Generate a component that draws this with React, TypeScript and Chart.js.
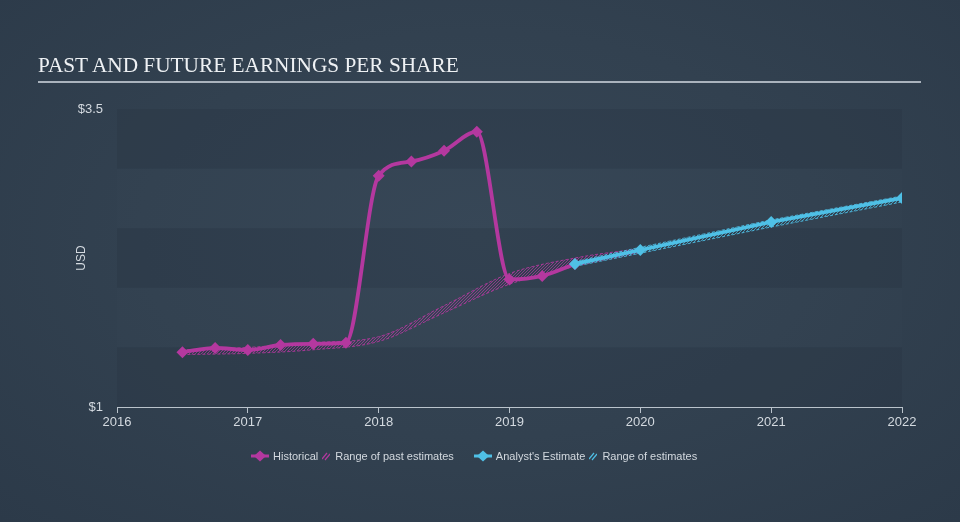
import React, { useEffect, useRef } from 'react';
import { Chart, registerables } from 'chart.js';

Chart.register(...registerables);

// ---- data ----
const histYears = [2016.5, 2016.75, 2017, 2017.25, 2017.5, 2017.75, 2018, 2018.25, 2018.5, 2018.75, 2019, 2019.25, 2019.5];
const histEPS = [1.46, 1.495, 1.478, 1.52, 1.53, 1.54, 2.94, 3.06, 3.15, 3.31, 2.07, 2.1, 2.2];

const estYears = [2019.5, 2020, 2021, 2022];
const estEPS = [2.2, 2.317, 2.552, 2.753];

const pastRangeYears = [2016.5, 2017, 2017.5, 2018, 2018.5, 2019, 2019.5, 2020];
const pastRangeLow = [1.44, 1.45, 1.48, 1.55, 1.79, 2.03, 2.18, 2.3];
const pastRangeHigh = [1.48, 1.5, 1.54, 1.59, 1.85, 2.12, 2.25, 2.33];

const futRangeYears = [2019.5, 2020, 2021, 2022];
const futRangeLow = [2.18, 2.29, 2.51, 2.72];
const futRangeHigh = [2.22, 2.34, 2.57, 2.77];

const xTickYears = [2016, 2017, 2018, 2019, 2020, 2021, 2022];
const yTickValues = [1, 3.5];
const yTickLabels = ['$1', '$3.5'];

const MAGENTA = '#b4389f';
const BLUE = '#4fc0e6';

function hatch(color: string) {
  const c = document.createElement('canvas');
  c.width = 3;
  c.height = 3;
  const g = c.getContext('2d')!;
  g.strokeStyle = color;
  g.lineWidth = 1;
  g.beginPath();
  g.moveTo(0, 3);
  g.lineTo(3, 0);
  g.moveTo(-1, 1);
  g.lineTo(1, -1);
  g.moveTo(2, 4);
  g.lineTo(4, 2);
  g.stroke();
  return g.createPattern(c, 'repeat')!;
}

const bandsPlugin = {
  id: 'bands',
  beforeDraw(chart: any) {
    const { ctx, chartArea, scales } = chart;
    const y = scales.y;
    ctx.save();
    let i = 0;
    for (let v = 1; v < 3.5 - 1e-9; v += 0.5) {
      const top = y.getPixelForValue(v + 0.5);
      const bot = y.getPixelForValue(v);
      ctx.fillStyle = i % 2 === 0 ? 'rgba(25,35,48,0.14)' : 'rgba(255,255,255,0.008)';
      ctx.fillRect(chartArea.left, top, chartArea.right - chartArea.left, bot - top);
      i++;
    }
    ctx.restore();
  },
};

function Diamond({ color }: { color: string }) {
  return (
    <svg width="18" height="12" style={{ marginRight: 4 }}>
      <line x1="0" y1="6" x2="18" y2="6" stroke={color} strokeWidth="3" />
      <polygon points="9,0.5 15,6 9,11.5 3,6" fill={color} />
    </svg>
  );
}

function Hatch({ color }: { color: string }) {
  return (
    <svg width="8" height="10" style={{ marginRight: 5, marginLeft: 4 }}>
      <line x1="0" y1="8" x2="5" y2="2" stroke={color} strokeWidth="1.2" />
      <line x1="3" y1="9" x2="8" y2="3" stroke={color} strokeWidth="1.2" />
    </svg>
  );
}

export default function App() {
  const ref = useRef<HTMLCanvasElement>(null);

  useEffect(() => {
    const canvas = ref.current!;
    const pastPattern = hatch('rgba(180,56,159,0.7)');
    const futPattern = hatch('rgba(79,192,230,0.7)');
    const toPts = (xs: number[], ys: number[]) => xs.map((x, i) => ({ x, y: ys[i] }));

    const chart = new Chart(canvas, {
      type: 'line',
      data: {
        datasets: [
          {
            label: 'Historical',
            data: toPts(histYears, histEPS),
            borderColor: MAGENTA,
            backgroundColor: MAGENTA,
            borderWidth: 3.8,
            pointStyle: 'rectRot',
            pointRadius: 6,
            pointBackgroundColor: MAGENTA,
            pointBorderWidth: 0,
            cubicInterpolationMode: 'monotone',
            fill: false,
            order: 1,
          },
          {
            label: "Analyst's Estimate",
            data: toPts(estYears, estEPS),
            borderColor: BLUE,
            backgroundColor: BLUE,
            borderWidth: 3.8,
            pointStyle: 'rectRot',
            pointRadius: 6,
            pointBackgroundColor: BLUE,
            pointBorderWidth: 0,
            fill: false,
            order: 0,
          },
          {
            label: 'pastLow',
            data: toPts(pastRangeYears, pastRangeLow),
            borderColor: 'rgba(180,56,159,0.85)',
            borderWidth: 1,
            borderDash: [3, 2],
            pointRadius: 0,
            cubicInterpolationMode: 'monotone',
            fill: false,
            order: 10,
          },
          {
            label: 'pastHigh',
            data: toPts(pastRangeYears, pastRangeHigh),
            borderColor: 'rgba(180,56,159,0.85)',
            borderWidth: 1,
            borderDash: [3, 2],
            pointRadius: 0,
            cubicInterpolationMode: 'monotone',
            fill: '-1',
            backgroundColor: pastPattern,
            order: 10,
          },
          {
            label: 'futLow',
            data: toPts(futRangeYears, futRangeLow),
            borderColor: 'rgba(79,192,230,0.85)',
            borderWidth: 1,
            borderDash: [3, 2],
            pointRadius: 0,
            fill: false,
            order: 9,
          },
          {
            label: 'futHigh',
            data: toPts(futRangeYears, futRangeHigh),
            borderColor: 'rgba(79,192,230,0.85)',
            borderWidth: 1,
            borderDash: [3, 2],
            pointRadius: 0,
            fill: '-1',
            backgroundColor: futPattern,
            order: 9,
          },
        ],
      },
      options: {
        animation: false,
        responsive: false,
        maintainAspectRatio: false,
        layout: { padding: { left: 0, right: 58, top: 109, bottom: 85 } },
        plugins: {
          legend: { display: false },
          tooltip: { enabled: false },
        },
        scales: {
          x: {
            type: 'linear',
            min: 2016,
            max: 2022,
            afterBuildTicks: (s: any) => {
              s.ticks = xTickYears.map((v) => ({ value: v }));
            },
            afterFit: (s: any) => {
              s.height = 30;
            },
            ticks: {
              color: '#d4dae0',
              font: { family: 'Arial, "Liberation Sans", sans-serif', size: 13 },
              padding: 2,
              maxRotation: 0,
              callback: (v: any) => String(v),
            },
            grid: {
              drawOnChartArea: false,
              drawTicks: true,
              tickLength: 6,
              color: 'rgba(210,218,226,0.85)',
              lineWidth: 1,
            },
            border: { display: true, color: 'rgba(210,218,226,0.85)', width: 1 },
          },
          y: {
            type: 'linear',
            min: 1,
            max: 3.5,
            afterBuildTicks: (s: any) => {
              s.ticks = yTickValues.map((v) => ({ value: v }));
            },
            afterFit: (s: any) => {
              s.width = 117;
            },
            ticks: {
              color: '#d4dae0',
              font: { family: 'Arial, "Liberation Sans", sans-serif', size: 13 },
              padding: 14,
              callback: (v: any) => {
                const i = yTickValues.indexOf(Number(v));
                return i >= 0 ? yTickLabels[i] : '';
              },
            },
            grid: { display: false, drawTicks: false },
            border: { display: false },
            title: {
              display: true,
              text: 'USD',
              color: '#d4dae0',
              font: { family: 'Arial, "Liberation Sans", sans-serif', size: 12 },
              padding: { top: 74, bottom: 0 },
            },
          },
        },
      },
      plugins: [bandsPlugin],
    } as any);

    return () => chart.destroy();
  }, []);

  const legendText: React.CSSProperties = {
    color: '#d3d9df',
    fontSize: 11,
    fontFamily: 'Arial, "Liberation Sans", sans-serif',
  };

  return (
    <div
      style={{
        position: 'fixed',
        left: 0,
        top: 0,
        width: 960,
        height: 522,
        overflow: 'hidden',
        background: 'radial-gradient(ellipse at 50% 45%, #364656 0%, #324150 50%, #2c3a49 100%)',
      }}
    >
      <div
        style={{
          position: 'absolute',
          left: 38,
          top: 52,
          fontFamily: '"Liberation Serif", "DejaVu Serif", serif',
          fontSize: 21.3,
          color: '#eef1f4',
          lineHeight: '26px',
          whiteSpace: 'nowrap',
        }}
      >
        PAST AND FUTURE EARNINGS PER SHARE
      </div>
      <div style={{ position: 'absolute', left: 38, top: 81, width: 883, height: 2, background: '#aab3bd' }} />
      <canvas ref={ref} width={960} height={522} style={{ position: 'absolute', left: 0, top: 0 }} />
      <div
        style={{
          position: 'absolute',
          left: 251,
          top: 449,
          display: 'flex',
          alignItems: 'center',
          whiteSpace: 'nowrap',
          height: 14,
        }}
      >
        <Diamond color={MAGENTA} />
        <span style={legendText}>Historical</span>
        <Hatch color={MAGENTA} />
        <span style={legendText}>Range of past estimates</span>
        <span style={{ width: 20 }} />
        <Diamond color={BLUE} />
        <span style={legendText}>Analyst's Estimate</span>
        <Hatch color={BLUE} />
        <span style={legendText}>Range of estimates</span>
      </div>
    </div>
  );
}
